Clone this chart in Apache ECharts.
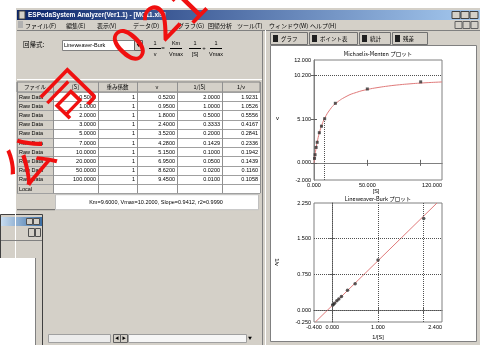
<!DOCTYPE html>
<html><head><meta charset="utf-8">
<script src="https://cdn.jsdelivr.net/npm/echarts@6/dist/echarts.min.js"></script>
<style>html,body{margin:0;padding:0;background:#fff}#c{width:480px;height:345px}</style>
</head><body><div id="c"></div>
<script>
// ---- data ----
const rowLabels = ['Raw Data','Raw Data','Raw Data','Raw Data','Raw Data','Raw Data','Raw Data','Raw Data','Raw Data','Raw Data'];
const substrate = [0.5, 1, 2, 3, 5, 7, 10, 20, 50, 100];
const weights = [1, 1, 1, 1, 1, 1, 1, 1, 1, 1];
const velocity = [0.52, 0.95, 1.80, 2.40, 3.52, 4.28, 5.15, 6.95, 8.62, 9.45];
const invSubstrate = [2.0, 1.0, 0.5, 0.3333, 0.2, 0.1429, 0.1, 0.05, 0.02, 0.01];
const invVelocity = [1.9231, 1.0526, 0.5556, 0.4167, 0.2841, 0.2336, 0.1942, 0.1439, 0.1160, 0.1058];
const mmFitS = [0, 0.5, 1, 2, 3, 5, 7.5, 10, 15, 20, 30, 40, 50, 60, 70, 80, 90, 100, 110, 120];
const mmFitV = [0, 0.49, 0.96, 1.76, 2.43, 3.49, 4.47, 5.20, 6.22, 6.89, 7.73, 8.23, 8.56, 8.79, 8.97, 9.11, 9.22, 9.31, 9.38, 9.44];
const lbFitX = [-0.37, 2.29];
const lbFitY = [-0.25, 2.25];
const kmValue = 9.6;
const vmaxValue = 10.2;
const mmXTicks = [0, 50, 120];
const mmYTicks = [-2, 0, 5.1, 10.2, 12];
const lbXTicks = [-0.4, 0, 1, 2.4];
const lbYTicks = [-0.25, 0, 0.75, 1.5, 2.25];
const lbGridX = [0, 1, 2];
const lbGridY = [0, 0.75, 1.5];
const tableHeaders = ['ファイル', '[S]', '重み係数', 'v', '1/[S]', '1/v'];
const menuItems = ['ファイル(F)', '編集(E)', '表示(V)', 'データ(D)', 'グラフ(G)', '回帰分析', 'ツール(T)', 'ウィンドウ(W)', 'ヘルプ(H)'];
const tabLabels = ['グラフ', 'ポイント表', '統計', '残差'];
const resultText = 'Km=9.6000, Vmax=10.2000, Slope=0.9412, r2=0.9990';
const windowTitle = 'ESPedaSystem Analyzer(Ver1.1) - [MC11.xls]';
const watermarkChars = ['公', '司', '0', '2', '1'];

// ---- layout helpers ----
const FJ = '"Noto Sans CJK JP", "Liberation Sans", sans-serif';
const FL = '"Liberation Sans", "Noto Sans CJK JP", sans-serif';
const G = [];
function R(x, y, w, h, fill, stroke, z) {
  G.push({type:'rect', silent:true, z: z === undefined ? -10 : z,
    shape:{x:x, y:y, width:w, height:h},
    style:{fill:fill, stroke:stroke || null, lineWidth:1}});
}
function L(x1, y1, x2, y2, stroke, z, dash) {
  G.push({type:'line', silent:true, z: z === undefined ? -9 : z,
    shape:{x1:x1, y1:y1, x2:x2, y2:y2},
    style:{stroke:stroke, lineWidth:1, lineDash: dash || null}});
}
function T(x, y, text, o) {
  o = o || {};
  G.push({type:'text', silent:true, z: o.z === undefined ? -8 : o.z,
    x: x, y: y, rotation: o.rot || 0,
    style:{text:text, x:0, y:0, fill:o.fill || '#000',
      fontSize:o.size || 6, fontFamily:o.font || FJ, fontWeight:o.weight || 'normal',
      textAlign:o.align || 'left', textVerticalAlign:'middle'}});
}

// background / main window
R(0, 0, 480, 345, '#ffffff');
R(15, 8, 465, 337, '#d4d0c8');
L(15.5, 8, 15.5, 345, '#ffffff');
G.push({type:'rect', silent:true, z:-10, shape:{x:17, y:10, width:463, height:10},
  style:{fill:new echarts.graphic.LinearGradient(0, 0, 1, 0, [{offset:0, color:'#0a246a'}, {offset:1, color:'#a6caf0'}])}});
R(19, 11, 6, 8, '#d4d0c8', '#404040');
T(28, 15.5, windowTitle, {fill:'#ffffff', size:6.5, weight:'bold', font:FL});
[452, 461, 470].forEach(function (bx) { R(bx, 11.5, 8, 7, '#d4d0c8', '#404040'); });
// menu bar
R(18, 21, 5, 7, '#b0b0b0');
const menuX = [25, 66, 97, 133, 178, 208, 237, 269, 310];
menuItems.forEach(function (m, i) { T(menuX[i], 25.5, m, {size:6}); });
[455, 463, 471].forEach(function (bx) { R(bx, 21.5, 7, 7, '#d4d0c8', '#606060'); });
L(17, 30.5, 480, 30.5, '#808080');

// formula area
T(23, 45, '回帰式:', {size:6.5});
R(62.5, 40.5, 72, 10, '#ffffff', '#808080');
T(64, 45.5, 'Lineweaver-Burk', {size:5.5, font:FL});
R(134.5, 40.5, 8, 10, '#d4d0c8', '#606060');
T(138.5, 45.5, '▼', {size:4, align:'center'});
// formula 1/v = Km/Vmax * 1/[S] + 1/Vmax
function frac(cx, num, den) {
  T(cx, 43, num, {size:5.5, align:'center', font:FL});
  L(cx - 6, 48.5, cx + 6, 48.5, '#000', -8);
  T(cx, 54, den, {size:5.5, align:'center', font:FL});
}
frac(155, '1', 'v');
T(163, 48.5, '=', {size:6, align:'center', font:FL});
frac(176, 'Km', 'Vmax');
frac(195, '1', '[S]');
T(204, 48.5, '+', {size:6, align:'center', font:FL});
frac(216, '1', 'Vmax');
L(17, 79.5, 262, 79.5, '#ffffff');

// table
const colX = [17, 53, 98, 137, 177, 222, 260];
const headY = 82, headH = 10, rowH = 9.2;
R(17, headY, 243, headH, '#d4d0c8', '#808080');
tableHeaders.forEach(function (h, i) {
  T((colX[i] + colX[i + 1]) / 2, headY + headH / 2, h, {size:5.5, align:'center'});
});
const nRows = rowLabels.length + 1;
const bodyTop = headY + headH;
R(17, bodyTop, 36, nRows * rowH, '#d4d0c8');
R(53, bodyTop, 207, nRows * rowH, '#ffffff');
for (let r = 0; r <= nRows; r++) {
  L(17, Math.round(bodyTop + r * rowH) + 0.5, 260, Math.round(bodyTop + r * rowH) + 0.5, '#a0a0a0');
}
colX.forEach(function (cx) { L(cx + 0.5, headY, cx + 0.5, bodyTop + nRows * rowH, '#909090'); });
const cols = [substrate, weights, velocity, invSubstrate, invVelocity];
rowLabels.forEach(function (lab, r) {
  const cy = bodyTop + r * rowH + rowH / 2 + 0.5;
  T(19, cy, lab, {size:5.5, font:FL});
  cols.forEach(function (arr, c) {
    const txt = c === 1 ? String(arr[r]) : arr[r].toFixed(4);
    T(colX[c + 2] - 2, cy, txt, {size:5.5, align:'right', font:FL});
  });
});
T(19, bodyTop + 10 * rowH + rowH / 2 + 0.5, 'Local', {size:5.5, font:FL});
// footer
const footY = bodyTop + nRows * rowH + 1;
R(55.5, footY + 0.5, 203, 15, '#ffffff', '#c0c0c0');
T(156, footY + 8, resultText, {size:5.5, align:'center', font:FL});
L(17, footY + 15.5, 55, footY + 15.5, '#606060');
// bottom scrollbar
R(48.5, 334.5, 62, 8, '#ececec', '#a0a0a0');
R(113.5, 334.5, 7, 8, '#d4d0c8', '#606060');
R(120.5, 334.5, 7, 8, '#d4d0c8', '#606060');
R(128.5, 334.5, 118, 8, '#f6f6f6', '#a0a0a0');
T(117, 338.5, '◀', {size:4, align:'center'});
T(124, 338.5, '▶', {size:4, align:'center'});
T(250, 338.5, '▼', {size:4, align:'center'});
// splitter
L(262.5, 30, 262.5, 345, '#808080');
L(265.5, 30, 265.5, 345, '#ffffff');

// right pane tabs
const tabX = [270, 309, 359, 392];
const tabW = [37, 48, 31, 35];
tabLabels.forEach(function (t, i) {
  R(tabX[i] + 0.5, 32.5, tabW[i], 12, '#d4d0c8', '#707070');
  R(tabX[i] + 3, 35, 5, 7, '#202020');
  T(tabX[i] + 11, 39, t, {size:5.5});
});
R(270.5, 45.5, 206, 296, '#ffffff', '#808080');

// small left window
R(0.5, 214.5, 42, 131, '#d4d0c8', '#404040');
G.push({type:'rect', silent:true, z:-10, shape:{x:1, y:217, width:41, height:9},
  style:{fill:new echarts.graphic.LinearGradient(0, 0, 1, 0, [{offset:0, color:'#c8dcf0'}, {offset:1, color:'#3a6ea5'}])}});
R(26.5, 218.5, 6, 6, '#d4d0c8', '#505050');
R(33.5, 218.5, 6, 6, '#d4d0c8', '#505050');
R(28.5, 228.5, 6, 8, '#d4d0c8', '#505050');
R(35.5, 228.5, 5, 8, '#d4d0c8', '#505050');
L(1, 240.5, 42, 240.5, '#808080');
R(0, 258, 35, 87, '#ffffff');
L(35.5, 258, 35.5, 345, '#808080');

// plot texts
T(378, 54, 'Michaelis-Menten プロット', {size:5.5, align:'center', z:5});
T(276, 118, 'v', {size:6, font:FL, z:5});
T(376, 191, '[S]', {size:5.5, align:'center', font:FL, z:5});
T(378, 198.5, 'Lineweaver-Burk プロット', {size:5.5, align:'center', z:5});
T(277, 262, '1/v', {size:5.5, align:'center', font:FL, rot:-Math.PI / 2, z:5});
T(378, 337, '1/[S]', {size:5.5, align:'center', font:FL, z:5});

// watermark
const wmPos = [[28, 160], [68, 95], [128, 44], [160, 20], [187, 4]];
watermarkChars.forEach(function (ch, i) {
  G.push({type:'text', silent:true, z:100, x:wmPos[i][0], y:wmPos[i][1], rotation:0.8,
    style:{text:ch, x:0, y:0, fill:'#f01010', fontSize:50, fontFamily:'"Noto Sans CJK SC", sans-serif',
      textAlign:'center', textVerticalAlign:'middle'}});
});

// ---- chart ----
const lab = {fontSize:5.5, color:'#000', fontFamily:FL, margin:3};
const axLine = {show:true, lineStyle:{color:'#808080', width:1}};
function xAx(gi, min, max, pos, labels, ticks) {
  return {type:'value', gridIndex:gi, min:min, max:max, position:pos,
    axisLine:axLine, splitLine:{show:false},
    axisTick:{show:true, inside:true, length:3, lineStyle:{color:'#606060'}, customValues:ticks},
    axisLabel: labels ? Object.assign({customValues:labels, formatter:function (v) { return v.toFixed(3); },
      alignMaxLabel:'right'}, lab) : {show:false}};
}
function yAx(gi, min, max, pos, labels, ticks) {
  return {type:'value', gridIndex:gi, min:min, max:max, position:pos,
    axisLine:axLine, splitLine:{show:false},
    axisTick:{show:true, inside:true, length:3, lineStyle:{color:'#606060'}, customValues:ticks},
    axisLabel: labels ? Object.assign({customValues:labels, formatter:function (v) { return v.toFixed(3); }}, lab) : {show:false}};
}
const dotted = {type:'dotted', color:'#505050', width:1};
const option = {
  animation:false,
  graphic:{elements:G},
  grid:[
    {left:314, top:60, width:128, height:120, show:true, borderColor:'#808080', borderWidth:1, backgroundColor:'#ffffff'},
    {left:314, top:203, width:128, height:119, show:true, borderColor:'#808080', borderWidth:1, backgroundColor:'#ffffff'}
  ],
  xAxis:[
    xAx(0, 0, 120, 'bottom', mmXTicks, [50, 100]),
    xAx(0, 0, 120, 'top', null, [50, 100]),
    xAx(1, -0.4, 2.4, 'bottom', lbXTicks, lbGridX),
    xAx(1, -0.4, 2.4, 'top', null, lbGridX)
  ],
  yAxis:[
    yAx(0, -2, 12, 'left', mmYTicks, [0, 5.1, 10.2]),
    yAx(0, -2, 12, 'right', null, [0, 5.1, 10.2]),
    yAx(1, -0.25, 2.25, 'left', lbYTicks, lbGridY),
    yAx(1, -0.25, 2.25, 'right', null, lbGridY)
  ],
  series:[
    {type:'line', xAxisIndex:0, yAxisIndex:0, smooth:true, showSymbol:false, silent:true,
      data:mmFitS.map(function (s, i) { return [s, mmFitV[i]]; }),
      lineStyle:{color:'#e07a7a', width:1}, z:3,
      markLine:{silent:true, symbol:'none', label:{show:false}, lineStyle:dotted, animation:false,
        data:[{yAxis:vmaxValue}, [{coord:[kmValue, -2]}, {coord:[kmValue, vmaxValue / 2]}]]}},
    {type:'scatter', xAxisIndex:0, yAxisIndex:0, symbol:'rect', symbolSize:3, silent:true,
      data:substrate.map(function (s, i) { return [s, velocity[i]]; }),
      itemStyle:{color:'#303030'}, z:4},
    {type:'line', xAxisIndex:2, yAxisIndex:2, showSymbol:false, silent:true,
      data:lbFitX.map(function (x, i) { return [x, lbFitY[i]]; }),
      lineStyle:{color:'#e07a7a', width:1}, z:3,
      markLine:{silent:true, symbol:'none', label:{show:false}, lineStyle:dotted, animation:false,
        data:lbGridX.map(function (v) { return {xAxis:v}; }).concat(lbGridY.map(function (v) { return {yAxis:v}; }))}},
    {type:'scatter', xAxisIndex:2, yAxisIndex:2, symbol:'circle', symbolSize:3.5, silent:true,
      data:invSubstrate.map(function (x, i) { return [x, invVelocity[i]]; }),
      itemStyle:{color:'#303030'}, z:4}
  ]
};
const chart = echarts.init(document.getElementById('c'), null, {renderer:'canvas'});
chart.setOption(option);
</script>
</body></html>
